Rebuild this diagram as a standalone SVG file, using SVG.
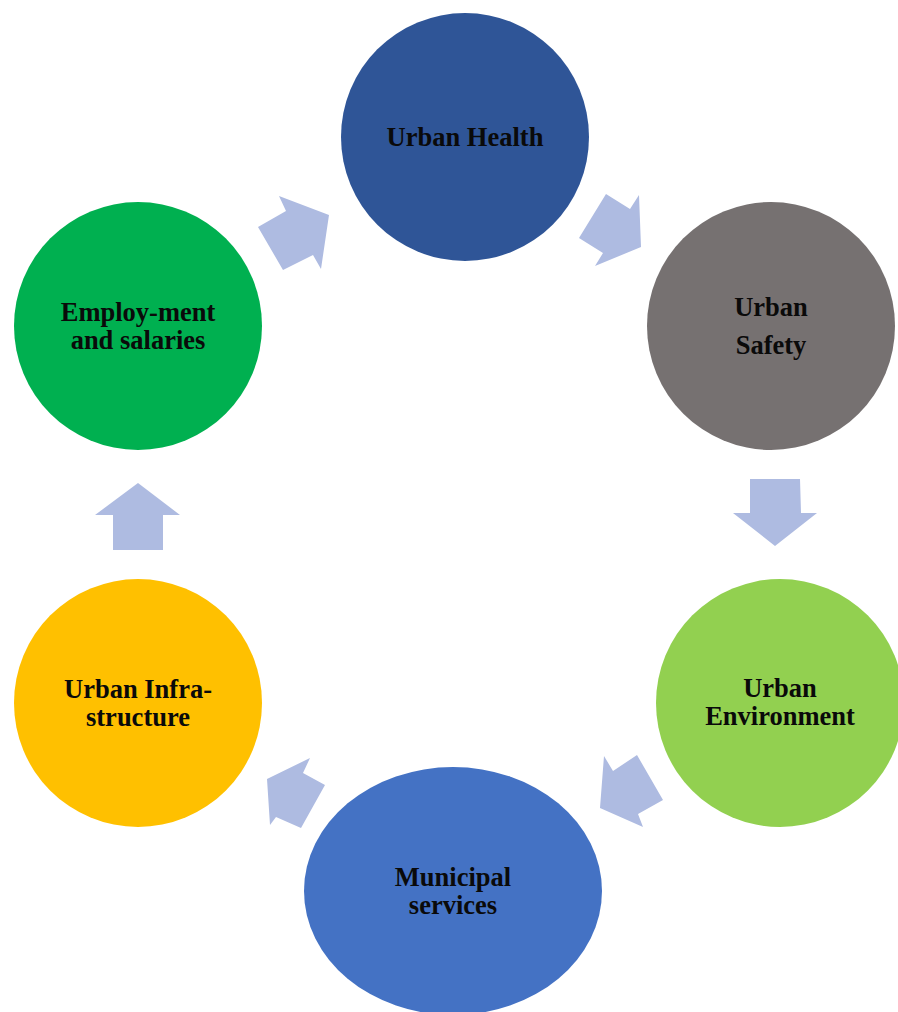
<svg xmlns="http://www.w3.org/2000/svg" width="898" height="1012" viewBox="0 0 898 1012">
<style>
.lbl{font-family:"Liberation Serif","Times New Roman",serif;font-weight:bold;font-size:26.5px;fill:#0a0a0a;text-anchor:middle}
.arr{fill:#AEBBE1}
</style>
<rect width="898" height="1012" fill="#ffffff"/>
<g id="connectors">
<polygon class="arr" points="258,227 286,211 279,196 329,215 321,269 313,255 283,270"/>
<polygon class="arr" points="606,194 630,209 639,195 641,247 595,266 603,253 579,238"/>
<polygon class="arr" points="750,479 800,479 801,513 817,513 775,546 733,513 750,513"/>
<polygon class="arr" points="604,756 613,771 637,755 663,800 638,814 643,827 600,808"/>
<polygon class="arr" points="310,758 303,773 325,785 301,828 276,817 270,825 267,779"/>
<polygon class="arr" points="138,483 180,515 163,515 163,550 113,550 113,515 95,515"/>
</g>
<g id="urban-health">
<circle cx="465" cy="137" r="124" fill="#2F5597"/>
<text class="lbl" x="465" y="146">Urban Health</text>
</g>
<g id="urban-safety">
<circle cx="771" cy="326" r="124" fill="#767171"/>
<text class="lbl" x="771" y="316">Urban</text>
<text class="lbl" x="771" y="354">Safety</text>
</g>
<g id="urban-environment">
<circle cx="780" cy="703" r="124" fill="#92D050"/>
<text class="lbl" x="780" y="697">Urban</text>
<text class="lbl" x="780" y="725">Environment</text>
</g>
<g id="municipal-services">
<ellipse cx="453" cy="891" rx="149" ry="124" fill="#4472C4"/>
<text class="lbl" x="453" y="886">Municipal</text>
<text class="lbl" x="453" y="914">services</text>
</g>
<g id="urban-infrastructure">
<circle cx="138" cy="703" r="124" fill="#FFC000"/>
<text class="lbl" x="138" y="698">Urban Infra-</text>
<text class="lbl" x="138" y="726">structure</text>
</g>
<g id="employment">
<circle cx="138" cy="326" r="124" fill="#00B050"/>
<text class="lbl" x="138" y="321">Employ-ment</text>
<text class="lbl" x="138" y="349">and salaries</text>
</g>
</svg>
